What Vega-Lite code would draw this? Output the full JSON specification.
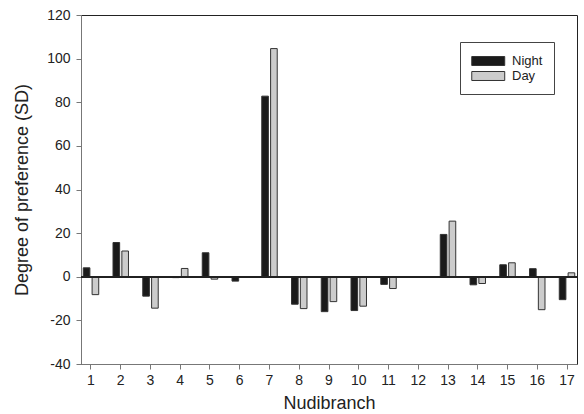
{
  "$schema": "https://vega.github.io/schema/vega-lite/v6.json",
  "width": 496,
  "height": 349,
  "autosize": {"type": "none"},
  "padding": {"left": 81, "top": 15, "right": 7, "bottom": 50},
  "background": "white",
  "config": {
    "font": "Liberation Sans",
    "view": {"stroke": "#222", "strokeWidth": 1},
    "axis": {
      "labelFont": "Liberation Sans",
      "titleFont": "Liberation Sans",
      "labelFontSize": 14,
      "titleFontSize": 18,
      "titleFontWeight": "normal",
      "labelColor": "#222",
      "titleColor": "#222",
      "domainColor": "#777",
      "tickColor": "#777",
      "tickSize": 5,
      "grid": false
    },
    "legend": {"labelFont": "Liberation Sans", "labelFontSize": 13, "labelColor": "#222"}
  },
  "data": {
    "values": [
      {"n": 1, "period": "Night", "value": 4.1}, {"n": 1, "period": "Day", "value": -8.2},
      {"n": 2, "period": "Night", "value": 15.7}, {"n": 2, "period": "Day", "value": 11.8},
      {"n": 3, "period": "Night", "value": -8.9}, {"n": 3, "period": "Day", "value": -14.4},
      {"n": 4, "period": "Night", "value": -0.4}, {"n": 4, "period": "Day", "value": 3.8},
      {"n": 5, "period": "Night", "value": 11.0}, {"n": 5, "period": "Day", "value": -1.1},
      {"n": 6, "period": "Night", "value": -2.0}, {"n": 6, "period": "Day", "value": 0},
      {"n": 7, "period": "Night", "value": 82.8}, {"n": 7, "period": "Day", "value": 104.6},
      {"n": 8, "period": "Night", "value": -12.6}, {"n": 8, "period": "Day", "value": -14.6},
      {"n": 9, "period": "Night", "value": -16.0}, {"n": 9, "period": "Day", "value": -11.4},
      {"n": 10, "period": "Night", "value": -15.5}, {"n": 10, "period": "Day", "value": -13.5},
      {"n": 11, "period": "Night", "value": -3.5}, {"n": 11, "period": "Day", "value": -5.4},
      {"n": 12, "period": "Night", "value": 0}, {"n": 12, "period": "Day", "value": 0},
      {"n": 13, "period": "Night", "value": 19.4}, {"n": 13, "period": "Day", "value": 25.5},
      {"n": 14, "period": "Night", "value": -3.7}, {"n": 14, "period": "Day", "value": -3.1},
      {"n": 15, "period": "Night", "value": 5.5}, {"n": 15, "period": "Day", "value": 6.4},
      {"n": 16, "period": "Night", "value": 3.7}, {"n": 16, "period": "Day", "value": -15.1},
      {"n": 17, "period": "Night", "value": -10.5}, {"n": 17, "period": "Day", "value": 1.8}
    ]
  },
  "layer": [
    {
      "mark": {"type": "bar", "stroke": "#333", "strokeWidth": 1},
      "encoding": {
        "x": {
          "field": "n",
          "type": "ordinal",
          "scale": {"paddingInner": 0.48, "paddingOuter": 0.076},
          "axis": {"title": "Nudibranch", "labelAngle": 0, "labelPadding": 4, "titlePadding": 7}
        },
        "xOffset": {
          "field": "period",
          "type": "nominal",
          "sort": ["Night", "Day"],
          "scale": {"domain": ["Night", "Day"], "paddingInner": 0.25}
        },
        "y": {
          "field": "value",
          "type": "quantitative",
          "scale": {"domain": [-40, 120], "nice": false},
          "axis": {
            "title": "Degree of preference (SD)",
            "values": [-40, -20, 0, 20, 40, 60, 80, 100, 120],
            "labelExpr": "replace(datum.label, '\u2212', '-')",
            "labelPadding": 6,
            "titlePadding": 15
          }
        },
        "fill": {
          "field": "period",
          "type": "nominal",
          "scale": {"domain": ["Night", "Day"], "range": ["#1a1a1a", "#cccccc"]},
          "legend": {
            "title": null,
            "orient": "none",
            "legendX": 379,
            "legendY": 27,
            "direction": "vertical",
            "strokeColor": "#444",
            "padding": 11,
            "symbolType": "M-1,-0.62H3.55V0.62H-1Z",
            "symbolSize": 210,
            "symbolStrokeColor": "#333",
            "symbolStrokeWidth": 1,
            "symbolOpacity": 1,
            "rowPadding": 0,
            "labelOffset": 25
          }
        }
      }
    },
    {
      "mark": {"type": "rule", "color": "#222", "strokeWidth": 1},
      "encoding": {"y": {"datum": 0}}
    }
  ]
}
